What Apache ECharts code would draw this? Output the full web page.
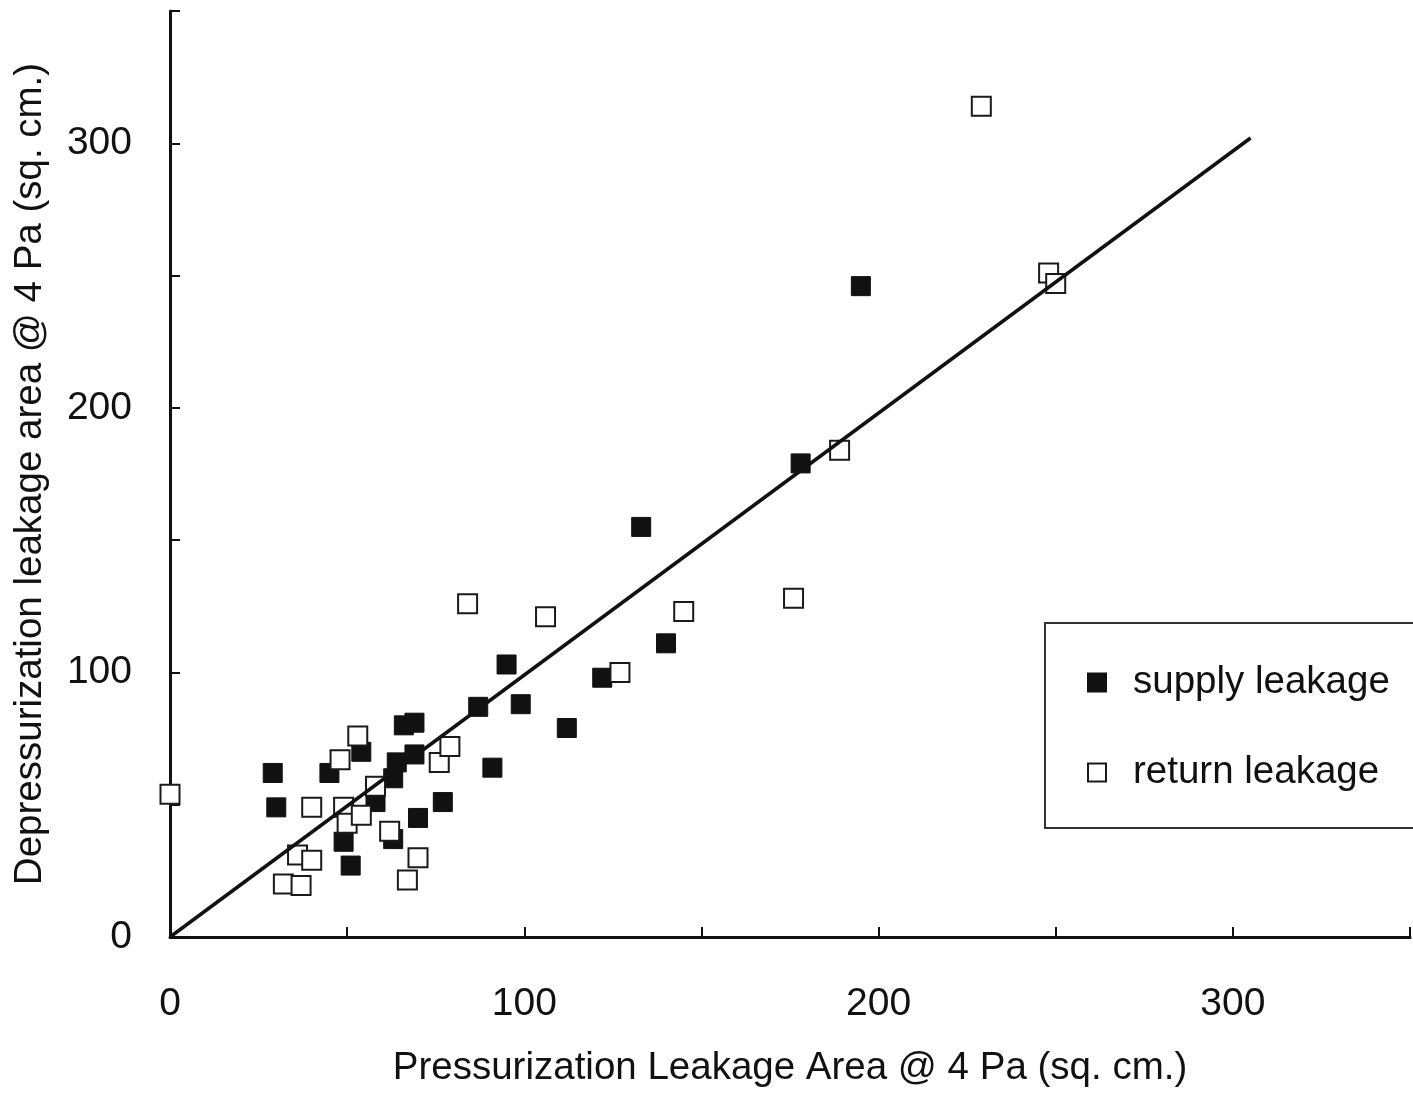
<!DOCTYPE html>
<html>
<head>
<meta charset="utf-8">
<script src="https://cdn.jsdelivr.net/npm/echarts@6/dist/echarts.min.js"></script>
<style>
html,body{margin:0;padding:0;background:#fff;}
#chart{width:1413px;height:1093px;}
</style>
</head>
<body>
<div id="chart"></div>
<script>
// Values
var supplyLeakage = [
  [29, 62], [30, 49], [45, 62], [49, 36], [51, 27], [54, 70], [58, 51],
  [63, 37], [63, 60], [64, 66], [66, 80], [69, 81], [69, 69], [70, 45],
  [77, 51], [87, 87], [91, 64], [95, 103], [99, 88], [112, 79], [122, 98],
  [133, 155], [140, 111], [178, 179], [195, 246]
];
var returnLeakage = [
  [0, 54], [32, 20], [36, 31], [37, 19.5], [40, 29], [40, 49], [48, 67],
  [49, 49], [50, 43], [53, 76], [54, 46], [58, 57], [62, 40], [67, 21.5],
  [70, 30], [76, 66], [79, 72], [84, 126], [106, 121], [127, 100],
  [145, 123], [176, 128], [189, 184], [229, 314], [248, 251], [250, 247]
];
var fitLine = [[0, 0], [305, 302]];
var xTickLabels = [0, 100, 200, 300];
var yTickLabels = [0, 100, 200, 300];
var seriesNames = ['supply leakage', 'return leakage'];

var FONT = '"Liberation Sans", Arial, Helvetica, sans-serif';
var INK = '#111111';

function tickFormatter(list) {
  return function (v) { return list.indexOf(v) >= 0 ? String(v) : ''; };
}

var chart = echarts.init(document.getElementById('chart'), null, {renderer: 'canvas'});
chart.setOption({
  backgroundColor: '#ffffff',
  animation: false,
  textStyle: {fontFamily: FONT, color: INK},
  grid: {left: 170, right: 0, top: 11, bottom: 156, containLabel: false},
  xAxis: {
    type: 'value', min: 0, max: 350, interval: 50,
    name: 'Pressurization Leakage Area @ 4 Pa (sq. cm.)',
    nameLocation: 'middle', nameGap: 112,
    nameTextStyle: {fontSize: 38.5, color: INK, fontFamily: FONT},
    axisLine: {show: true, lineStyle: {color: INK, width: 3}},
    axisTick: {show: true, inside: true, length: 10, lineStyle: {color: INK, width: 2}},
    axisLabel: {formatter: tickFormatter(xTickLabels), fontSize: 39, color: INK, margin: 48, fontFamily: FONT},
    splitLine: {show: false}
  },
  yAxis: {
    type: 'value', min: 0, max: 350, interval: 50,
    name: 'Depressurization leakage area @ 4 Pa (sq. cm.)',
    nameLocation: 'middle', nameGap: 120,
    nameTextStyle: {fontSize: 38.5, color: INK, fontFamily: FONT},
    axisLine: {show: true, lineStyle: {color: INK, width: 3}},
    axisTick: {show: true, inside: true, length: 10, lineStyle: {color: INK, width: 2}},
    axisLabel: {formatter: tickFormatter(yTickLabels), fontSize: 39, color: INK, margin: 38, fontFamily: FONT},
    splitLine: {show: false}
  },
  legend: {
    data: seriesNames,
    orient: 'vertical',
    left: 1045, top: 623,
    padding: [40, 42, 36, 42],
    itemGap: 51,
    itemWidth: 18, itemHeight: 18,
    borderColor: '#333', borderWidth: 2,
    backgroundColor: '#fff',
    textStyle: {fontSize: 38.5, color: INK, fontFamily: FONT, padding: [0, 0, 0, 22]}
  },
  series: [
    {
      name: seriesNames[0], type: 'scatter', data: supplyLeakage,
      symbol: 'rect', symbolSize: 19,
      itemStyle: {color: '#111111', borderColor: '#111111', borderWidth: 1, opacity: 1},
      z: 2
    },
    {
      name: seriesNames[1], type: 'scatter', data: returnLeakage,
      symbol: 'rect', symbolSize: 19,
      itemStyle: {color: '#ffffff', borderColor: '#1a1a1a', borderWidth: 2, opacity: 1},
      z: 3
    },
    {
      name: 'fit', type: 'line', data: fitLine,
      symbol: 'none', lineStyle: {color: '#111', width: 3.5},
      z: 4, silent: true
    }
  ]
});
</script>
</body>
</html>
